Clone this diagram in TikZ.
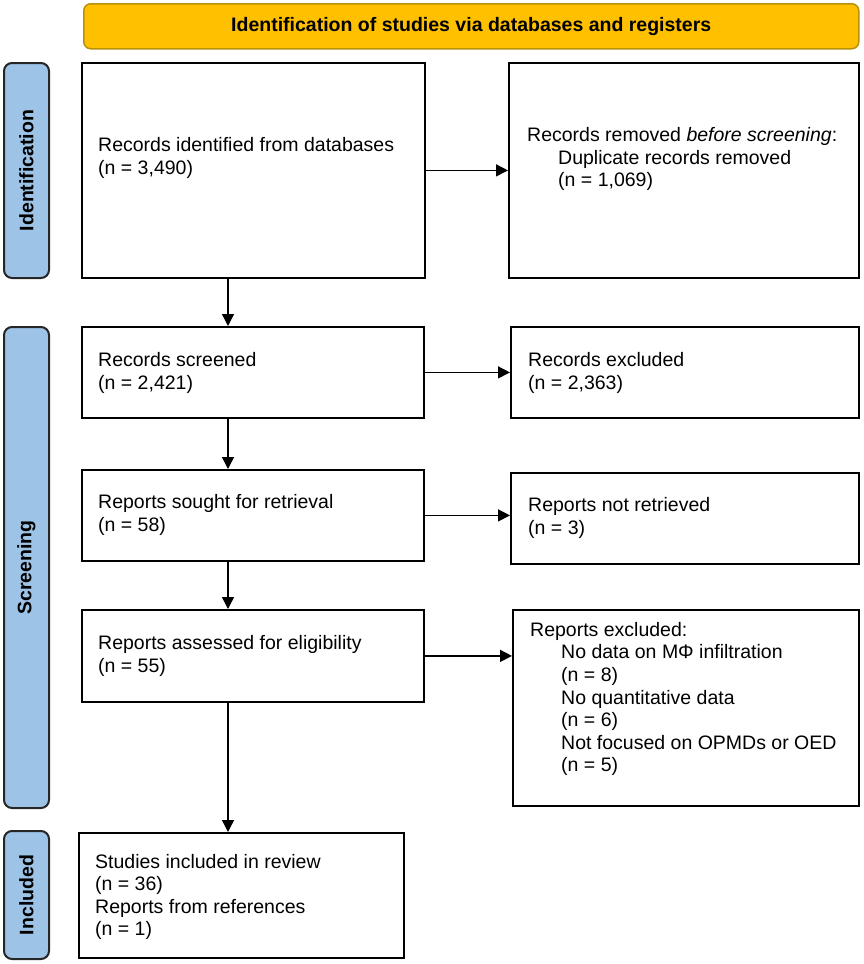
\documentclass[tikz,border=0pt]{standalone}
\usepackage{fontspec}
\setmainfont{Liberation Sans}
\usetikzlibrary{arrows.meta}
\definecolor{gold}{HTML}{FFC000}
\definecolor{golddark}{HTML}{B8900A}
\definecolor{sideblue}{HTML}{9DC3E6}
\begin{document}
\begin{tikzpicture}[x=1pt,y=-1pt,
  box/.style={draw=black, line width=1.8pt, inner sep=0pt, anchor=north west},
  lbl/.style={draw=black!85, line width=2pt, fill=sideblue, rounded corners=8pt, inner sep=0pt, anchor=north west},
  banner/.style={draw=golddark, line width=1.5pt, fill=gold, rounded corners=7pt, inner sep=0pt, anchor=north west},
  txt/.style={anchor=west, align=left, inner sep=0pt, font=\fontsize{19.5}{22.6}\selectfont},
  btxt/.style={inner sep=0pt, font=\fontsize{19.5}{22}\selectfont\bfseries},
  arr/.style={line width=1.4pt, -{Triangle[length=12pt,width=12pt]}}]
\useasboundingbox (0,0) rectangle (863,964);
% banner
\node[banner, minimum width=775pt, minimum height=45pt] (ban) at (83,3) {};
\node[btxt] (bantxt) at (ban.center) {Identification of studies via databases and registers};
% side labels
\node[lbl, minimum width=45pt, minimum height=215pt] (lid) at (3,62) {};
\node[btxt, rotate=90] (lidt) at (lid.center) {Identification};
\node[lbl, minimum width=45pt, minimum height=481pt] (lsc) at (3,326) {};
\node[btxt, rotate=90] (lsct) at (lsc.center) {Screening};
\node[lbl, minimum width=45pt, minimum height=128pt] (lin) at (3,830) {};
\node[btxt, rotate=90] (lint) at (lin.center) {Included};
% boxes
\node[box, minimum width=343pt, minimum height=215pt] (b1) at (81,62) {};
\node[txt] (t1) at (98,158) {Records identified from databases\\(n = 3,490)};
\node[box, minimum width=350pt, minimum height=215pt] (b2) at (508,62) {};
\node[txt] (t2) at (527,159) {Records removed \textit{before screening}:\\\hspace*{31pt}Duplicate records removed\\\hspace*{31pt}(n = 1,069)};

\node[box, minimum width=342pt, minimum height=91pt] (b3) at (81,326) {};
\node[txt] (t3) at (98,373) {Records screened\\(n = 2,421)};
\node[box, minimum width=348pt, minimum height=91pt] (b4) at (510,326) {};
\node[txt] (t4) at (528,373) {Records excluded\\(n = 2,363)};

\node[box, minimum width=342pt, minimum height=91pt] (b5) at (81,469) {};
\node[txt] (t5) at (98,515) {Reports sought for retrieval\\(n = 58)};
\node[box, minimum width=348pt, minimum height=91pt] (b6) at (510,472) {};
\node[txt] (t6) at (528,518) {Reports not retrieved\\(n = 3)};

\node[box, minimum width=342pt, minimum height=92pt] (b7) at (81,609) {};
\node[txt] (t7) at (98,656) {Reports assessed for eligibility\\(n = 55)};
\node[box, minimum width=346pt, minimum height=196pt] (b8) at (512,609) {};
\node[txt] (t8) at (530,699) {Reports excluded:\\\hspace*{31pt}No data on MΦ infiltration\\\hspace*{31pt}(n = 8)\\\hspace*{31pt}No quantitative data\\\hspace*{31pt}(n = 6)\\\hspace*{31pt}Not focused on OPMDs or OED\\\hspace*{31pt}(n = 5)};

\node[box, minimum width=325pt, minimum height=125pt] (b9) at (78,832) {};
\node[txt] (t9) at (95,897) {Studies included in review\\(n = 36)\\Reports from references\\(n = 1)};
% connectors
\coordinate (ax) at (228,0);
\draw[arr] (b1.east) -- (b2.west);
\draw[arr] (b3.east) -- (b4.west);
\draw[arr] (b5.east) -- (b5.east -| b6.west);
\draw[arr] (b7.east) -- (b7.east -| b8.west);
\draw[arr] (ax |- b1.south) -- (ax |- b3.north);
\draw[arr] (ax |- b3.south) -- (ax |- b5.north);
\draw[arr] (ax |- b5.south) -- (ax |- b7.north);
\draw[arr] (ax |- b7.south) -- (ax |- b9.north);
\end{tikzpicture}
\end{document}
